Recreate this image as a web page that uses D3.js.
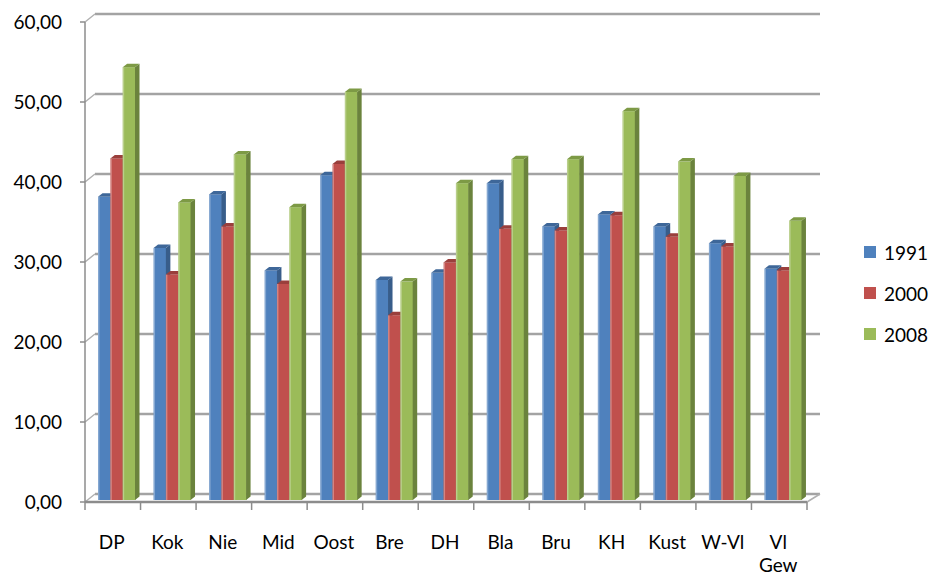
<!DOCTYPE html>
<html>
<head>
<meta charset="utf-8">
<script src="https://cdn.jsdelivr.net/npm/d3@7"></script>
<style>
  body { margin: 0; background: #fff; }
  text { font-family: Lato, "Open Sans", sans-serif; fill: #000; }
</style>
</head>
<body>
<div id="chart"></div>
<script>
var categories = ["DP", "Kok", "Nie", "Mid", "Oost", "Bre", "DH", "Bla", "Bru", "KH", "Kust", "W-Vl", "Vl Gew"]
var seriesNames = ["1991", "2000", "2008"]
var values1991 = [37.9, 31.5, 38.2, 28.7, 40.6, 27.5, 28.4, 39.6, 34.2, 35.7, 34.2, 32.1, 28.9]
var values2000 = [42.7, 28.2, 34.2, 27.0, 42.0, 23.1, 29.7, 33.9, 33.7, 35.6, 32.9, 31.7, 28.7]
var values2008 = [54.1, 37.2, 43.2, 36.6, 51.0, 27.3, 39.6, 42.6, 42.6, 48.6, 42.3, 40.5, 34.9]
var yTicks = [0, 10, 20, 30, 40, 50, 60]

var seriesValues = [values1991, values2000, values2008]

var colors = {
  front: ["#4f81bd", "#c0504d", "#9bbb59"],
  side: ["#385d8a", "#8c3836", "#6b833d"],
  top: ["#3e6799", "#9a3f3c", "#7d9a45"]
}

var width = 932, height = 575

// depth offsets (back wall vs front edge, and bar depth)
var wallDx = 10, wallDy = -8
var barDx = 4.5, barDy = -3.5

var svg = d3.select("#chart").append("svg")
  .attr("width", width)
  .attr("height", height)

var nl = d3.formatLocale({ decimal: ",", thousands: ".", grouping: [3], currency: ["€", ""] })
var fmt = nl.format(".2f")

var yFront = d3.scaleLinear().domain([0, 60]).range([502, 22])
var yBack = d3.scaleLinear().domain([0, 60]).range([502 + wallDy, 22 + wallDy])
var yBar = d3.scaleLinear().domain([0, 60]).range([500, 20])

var xBand = d3.scaleBand().domain(categories).range([85, 807])
var xSeries = d3.scaleBand().domain(seriesNames).range([13, 50])

var grid = svg.append("g")

// back wall gridlines
grid.selectAll(".gridline")
  .data(yTicks)
  .enter().append("line")
  .attr("x1", 85 + wallDx)
  .attr("x2", 820)
  .attr("y1", function (d) { return yBack(d) })
  .attr("y2", function (d) { return yBack(d) })
  .attr("stroke", "#a3a3a3")
  .attr("stroke-width", 2.4)

// left wall slants
grid.selectAll(".slant")
  .data(yTicks)
  .enter().append("line")
  .attr("x1", 85)
  .attr("x2", 85 + wallDx)
  .attr("y1", function (d) { return yFront(d) })
  .attr("y2", function (d) { return yBack(d) })
  .attr("stroke", "#b0b0b0")
  .attr("stroke-width", 1.5)

// floor right slant
grid.append("line")
  .attr("x1", 807).attr("y1", yFront(0))
  .attr("x2", 820).attr("y2", yBack(0))
  .attr("stroke", "#b0b0b0").attr("stroke-width", 1.5)

// bars
var bars = []
categories.forEach(function (c, i) {
  seriesNames.forEach(function (s, j) {
    bars.push({ cat: c, series: s, idx: j, value: seriesValues[j][i] })
  })
})

var barG = svg.append("g").selectAll("g")
  .data(bars)
  .enter().append("g")

var bw = xSeries.bandwidth()

barG.append("rect")
  .attr("x", function (d) { return xBand(d.cat) + xSeries(d.series) })
  .attr("y", function (d) { return yBar(d.value) })
  .attr("width", bw + 0.5)
  .attr("height", function (d) { return yBar(0) - yBar(d.value) })
  .attr("fill", function (d) { return colors.front[d.idx] })

barG.append("rect")
  .attr("x", function (d) { return xBand(d.cat) + xSeries(d.series) })
  .attr("y", function (d) { return yBar(d.value) })
  .attr("width", 1.5)
  .attr("height", function (d) { return yBar(0) - yBar(d.value) })
  .attr("fill", "#fff")
  .attr("opacity", 0.3)

barG.append("polygon")
  .attr("points", function (d) {
    var x = xBand(d.cat) + xSeries(d.series) + bw, y0 = yBar(0), y1 = yBar(d.value)
    return [[x, y1], [x + barDx, y1 + barDy], [x + barDx, y0 + barDy], [x, y0]].join(" ")
  })
  .attr("fill", function (d) { return colors.side[d.idx] })

barG.append("polygon")
  .attr("points", function (d) {
    var x = xBand(d.cat) + xSeries(d.series), y1 = yBar(d.value)
    return [[x, y1], [x + bw, y1], [x + bw + barDx, y1 + barDy], [x + barDx, y1 + barDy]].join(" ")
  })
  .attr("fill", function (d) { return colors.top[d.idx] })

// front axis and floor edge
svg.append("line")
  .attr("x1", 85).attr("x2", 85)
  .attr("y1", yFront(60)).attr("y2", yFront(0))
  .attr("stroke", "#8c8c8c").attr("stroke-width", 1.5)

svg.append("line")
  .attr("x1", 85).attr("x2", 807)
  .attr("y1", yFront(0)).attr("y2", yFront(0))
  .attr("stroke", "#8c8c8c").attr("stroke-width", 2.5)

// y ticks + labels
svg.selectAll(".ytick")
  .data(yTicks)
  .enter().append("line")
  .attr("x1", 80).attr("x2", 85)
  .attr("y1", function (d) { return yFront(d) })
  .attr("y2", function (d) { return yFront(d) })
  .attr("stroke", "#8c8c8c").attr("stroke-width", 1.5)

svg.selectAll(".ylabel")
  .data(yTicks)
  .enter().append("text")
  .attr("x", 62)
  .attr("y", function (d) { return yFront(d) - 1 })
  .attr("text-anchor", "end")
  .attr("dominant-baseline", "central")
  .style("font-size", "19px")
  .text(function (d) { return fmt(d) })

// x ticks
var xEdges = categories.map(function (c) { return xBand(c) }).concat([807])
svg.selectAll(".xtick")
  .data(xEdges)
  .enter().append("line")
  .attr("x1", function (d) { return d }).attr("x2", function (d) { return d })
  .attr("y1", yFront(0)).attr("y2", yFront(0) + 8)
  .attr("stroke", "#8c8c8c").attr("stroke-width", 1.5)

svg.selectAll(".xlabel")
  .data(categories)
  .enter().append("text")
  .attr("x", function (d) { return xBand(d) + xBand.bandwidth() / 2 - 1 })
  .attr("y", 541)
  .attr("text-anchor", "middle")
  .attr("dominant-baseline", "central")
  .style("font-size", "19px")
  .each(function (d) {
    var words = d.split(" ")
    var t = d3.select(this)
    words.forEach(function (w, k) {
      t.append("tspan")
        .attr("x", t.attr("x"))
        .attr("dy", k === 0 ? 0 : 23)
        .text(w)
    })
  })

// legend
var legend = svg.append("g").selectAll("g")
  .data(seriesNames)
  .enter().append("g")
  .attr("transform", function (d, i) { return "translate(864," + (246 + i * 41) + ")" })

legend.append("rect")
  .attr("width", 12).attr("height", 12)
  .attr("fill", function (d, i) { return colors.front[i] })

legend.append("text")
  .attr("x", 20).attr("y", 6)
  .attr("dominant-baseline", "central")
  .style("font-size", "19px")
  .text(function (d) { return d })
</script>
</body>
</html>
